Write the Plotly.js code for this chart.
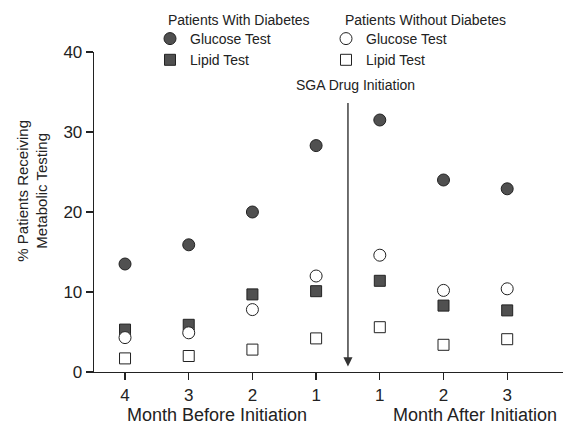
<!DOCTYPE html>
<html>
<head>
<meta charset="utf-8">
<script src="https://cdn.plot.ly/plotly-3.0.1.min.js"></script>
<style>html,body{margin:0;padding:0;background:#fff;}#chart{width:563px;height:425px;}</style>
</head>
<body>
<div id="chart"></div>
<script>
// Month positions (4 before ... 1 before, 1 after ... 3 after)
const monthIndex = [0, 1, 2, 3, 4, 5, 6];
const monthLabels = ['4', '3', '2', '1', '1', '2', '3'];
const diabGlucose = [13.5, 15.9, 20.0, 28.3, 31.5, 24.0, 22.9];
const diabLipid = [5.3, 5.9, 9.7, 10.1, 11.4, 8.3, 7.7];
const noDiabGlucose = [4.3, 4.9, 7.8, 12.0, 14.6, 10.2, 10.4];
const noDiabLipid = [1.7, 2.0, 2.8, 4.2, 5.6, 3.4, 4.1];
const yTicks = [0, 10, 20, 30, 40];

const FONT = 'Arial, "Liberation Sans", Helvetica, sans-serif';
const TXT = '#222';
const FILL = '#505050';
const EDGE = '#222';

const PL = 94, PT = 52, PW = 469, PH = 320;
const px2x = function (p) { return (p - PL) / PW; };
const py2y = function (p) { return (PT + PH - p) / PH; };

function tr(y, name, symbol, fill, legend) {
  return {
    x: monthIndex, y: y, name: name, type: 'scatter', mode: 'markers',
    legend: legend, cliponaxis: false,
    marker: {symbol: symbol, size: symbol === 'circle' ? 12 : 11, color: fill,
             line: {color: EDGE, width: 1}}
  };
}

const data = [
  tr(diabGlucose, 'Glucose Test', 'circle', FILL, 'legend'),
  tr(diabLipid, 'Lipid Test', 'square', FILL, 'legend'),
  tr(noDiabGlucose, 'Glucose Test', 'circle', '#fff', 'legend2'),
  tr(noDiabLipid, 'Lipid Test', 'square', '#fff', 'legend2')
];

const legendBase = {
  xref: 'paper', yref: 'paper', xanchor: 'left', yanchor: 'top',
  bgcolor: 'rgba(0,0,0,0)', borderwidth: 0, tracegroupgap: 0,
  font: {family: FONT, size: 14, color: TXT}, itemwidth: 30
};

const layout = {
  width: 563, height: 425,
  margin: {l: PL, r: 0, t: PT, b: 53},
  paper_bgcolor: '#fff', plot_bgcolor: '#fff',
  font: {family: FONT, color: TXT},
  showlegend: true,
  legend: Object.assign({}, legendBase, {x: px2x(150), y: py2y(23)}),
  legend2: Object.assign({}, legendBase, {x: px2x(326), y: py2y(23)}),
  xaxis: {
    range: [-0.487, 6.876], tickmode: 'array', tickvals: monthIndex, ticktext: monthLabels,
    showgrid: false, zeroline: false, showline: true, linecolor: '#222', linewidth: 1.3,
    ticks: 'outside', ticklen: 7, tickwidth: 1.3, tickcolor: '#222',
    tickfont: {family: FONT, size: 17, color: TXT}, fixedrange: true
  },
  yaxis: {
    range: [0, 40], tickmode: 'array', tickvals: yTicks,
    showgrid: false, zeroline: false, showline: true, linecolor: '#222', linewidth: 1.3,
    ticks: 'outside', ticklen: 7, tickwidth: 1.3, tickcolor: '#222',
    tickfont: {family: FONT, size: 17, color: TXT}, fixedrange: true
  },
  annotations: [
    {xref: 'paper', yref: 'paper', x: px2x(166), y: py2y(20), text: 'Patients With Diabetes',
     showarrow: false, xanchor: 'left', yanchor: 'middle', font: {family: FONT, size: 14, color: TXT}},
    {xref: 'paper', yref: 'paper', x: px2x(343), y: py2y(20), text: 'Patients Without Diabetes',
     showarrow: false, xanchor: 'left', yanchor: 'middle', font: {family: FONT, size: 14, color: TXT}},
    {xref: 'x', yref: 'y', x: 3.5, y: 0.7, axref: 'x', ayref: 'y', ax: 3.5, ay: 33.8,
     text: '', showarrow: true, arrowhead: 2, arrowsize: 1.3, arrowwidth: 1.4, arrowcolor: '#333'},
    {xref: 'x', yref: 'y', x: 3.62, y: 35.9, text: 'SGA Drug Initiation', showarrow: false,
     xanchor: 'center', yanchor: 'middle', font: {family: FONT, size: 14, color: TXT}},
    {xref: 'x', yref: 'paper', x: 1.44, y: py2y(415), text: 'Month Before Initiation', showarrow: false,
     xanchor: 'center', yanchor: 'middle', font: {family: FONT, size: 18, color: TXT}},
    {xref: 'x', yref: 'paper', x: 5.49, y: py2y(415), text: 'Month After Initiation', showarrow: false,
     xanchor: 'center', yanchor: 'middle', font: {family: FONT, size: 18, color: TXT}},
    {xref: 'paper', yref: 'paper', x: px2x(31.7), y: py2y(191),
     text: '% Patients Receiving<br>Metabolic Testing', textangle: -90, showarrow: false,
     xanchor: 'center', yanchor: 'middle', font: {family: FONT, size: 15, color: TXT}}
  ]
};

Plotly.newPlot('chart', data, layout, {displayModeBar: false, staticPlot: true});
</script>
</body>
</html>
